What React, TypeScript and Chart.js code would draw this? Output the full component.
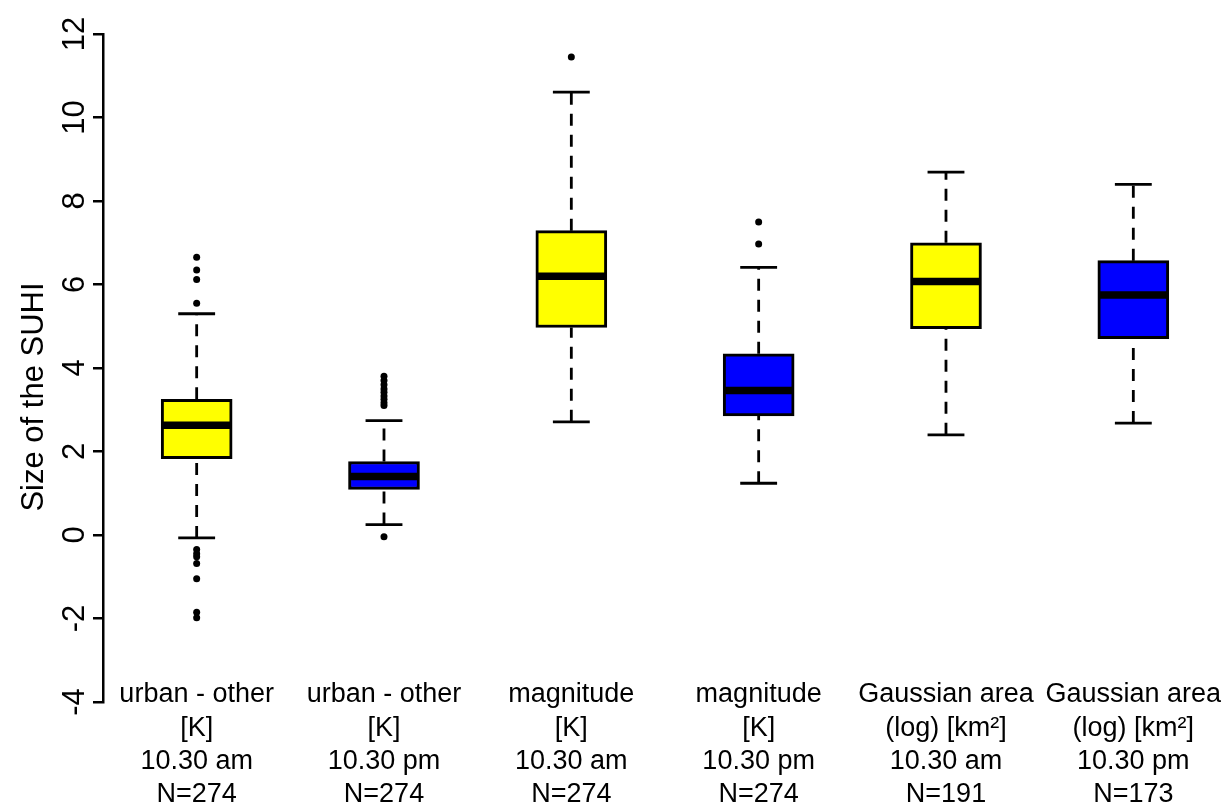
import React, { useEffect, useRef } from "react";
import { Chart, registerables } from "chart.js";

Chart.register(...registerables);

// ---------- data ----------
const CATEGORY_LABELS: string[][] = [
  ["urban - other", "[K]", "10.30 am", "N=274"],
  ["urban - other", "[K]", "10.30 pm", "N=274"],
  ["magnitude", "[K]", "10.30 am", "N=274"],
  ["magnitude", "[K]", "10.30 pm", "N=274"],
  ["Gaussian area", "(log) [km²]", "10.30 am", "N=191"],
  ["Gaussian area", "(log) [km²]", "10.30 pm", "N=173"],
];
const WHISKER_LOW = [-0.07, 0.25, 2.71, 1.24, 2.4, 2.68];
const Q1 = [1.83, 1.09, 4.97, 2.85, 4.94, 4.7];
const MEDIAN = [2.63, 1.4, 6.2, 3.46, 6.07, 5.75];
const Q3 = [3.25, 1.76, 7.29, 4.34, 7.0, 6.57];
const WHISKER_HIGH = [5.3, 2.74, 10.61, 6.41, 8.69, 8.4];
const OUTLIERS: number[][] = [
  [5.55, 6.12, 6.35, 6.65, -0.35, -0.45, -0.52, -0.68, -1.05, -1.85, -1.98],
  [3.1, 3.17, 3.25, 3.33, 3.42, 3.5, 3.6, 3.7, 3.8, -0.04],
  [11.45],
  [6.97, 7.5],
  [],
  [],
];
const BOX_COLORS = ["#FFFF00", "#0000FF", "#FFFF00", "#0000FF", "#FFFF00", "#0000FF"];
const Y_TICKS = [-4, -2, 0, 2, 4, 6, 8, 10, 12];
const Y_TITLE = "Size of the SUHI";

// ---------- style ----------
const FONT = "'Liberation Sans', Arial, Helvetica, sans-serif";
const W = 1227;
const H = 807;
const AREA_LEFT = 103;
const AREA_TOP = 34;
const AREA_BOTTOM = 702;
const PX_PER_CAT = 188;
const X_MIN = 0.5;
const X_MAX = X_MIN + (W - AREA_LEFT) / PX_PER_CAT;
const BOX_PX = 71;
const MED_HALF = 34 / PX_PER_CAT;
const CAP_HALF = 18.5 / PX_PER_CAT;

type P = { x: number; y: number | null };

function buildWhiskers(): P[] {
  const pts: P[] = [];
  Q1.forEach((_, i) => {
    const x = i + 1;
    pts.push({ x, y: Q3[i] }, { x, y: WHISKER_HIGH[i] }, { x, y: null });
    pts.push({ x, y: WHISKER_LOW[i] }, { x, y: Q1[i] }, { x, y: null });
  });
  return pts;
}

function buildCaps(): P[] {
  const pts: P[] = [];
  Q1.forEach((_, i) => {
    const x = i + 1;
    pts.push({ x: x - CAP_HALF, y: WHISKER_HIGH[i] }, { x: x + CAP_HALF, y: WHISKER_HIGH[i] }, { x: x + CAP_HALF, y: null });
    pts.push({ x: x - CAP_HALF, y: WHISKER_LOW[i] }, { x: x + CAP_HALF, y: WHISKER_LOW[i] }, { x: x + CAP_HALF, y: null });
  });
  return pts;
}

function buildMedians(): P[] {
  const pts: P[] = [];
  MEDIAN.forEach((m, i) => {
    const x = i + 1;
    pts.push({ x: x - MED_HALF, y: m }, { x: x + MED_HALF, y: m }, { x: x + MED_HALF, y: null });
  });
  return pts;
}

function buildOutliers(): P[] {
  const pts: P[] = [];
  OUTLIERS.forEach((arr, i) => arr.forEach((v) => pts.push({ x: i + 1, y: v })));
  return pts;
}

const labelPlugin = {
  id: "rLabels",
  afterDraw(chart: any) {
    const ctx = chart.ctx as CanvasRenderingContext2D;
    const ys = chart.scales.y;
    const xs = chart.scales.x;
    ctx.save();
    ctx.fillStyle = "#000";
    // y tick labels, rotated
    ctx.font = `31px ${FONT}`;
    ctx.textAlign = "center";
    ctx.textBaseline = "alphabetic";
    ys.ticks.forEach((t: any) => {
      const y = ys.getPixelForValue(t.value);
      ctx.save();
      ctx.translate(AREA_LEFT - 19, y);
      ctx.rotate(-Math.PI / 2);
      ctx.fillText(String(t.value), 0, 0);
      ctx.restore();
    });
    // y title
    ctx.font = `31px ${FONT}`;
    ctx.save();
    ctx.translate(43, 397);
    ctx.rotate(-Math.PI / 2);
    ctx.fillText(Y_TITLE, 0, 0);
    ctx.restore();
    // category labels
    ctx.font = `27px ${FONT}`;
    ctx.textBaseline = "middle";
    CATEGORY_LABELS.forEach((lines, i) => {
      const x = xs.getPixelForValue(i + 1);
      lines.forEach((ln, k) => {
        ctx.fillText(ln, x, 695 + k * 33.2);
      });
    });
    ctx.restore();
  },
};

export default function App() {
  const ref = useRef<HTMLCanvasElement | null>(null);
  useEffect(() => {
    if (!ref.current) return;
    const chart = new Chart(ref.current, {
      type: "bar",
      data: {
        datasets: [
          {
            type: "scatter",
            label: "outliers",
            data: buildOutliers(),
            pointRadius: 3.5,
            pointBackgroundColor: "#000",
            pointBorderWidth: 0,
            order: 0,
          } as any,
          {
            type: "line",
            label: "medians",
            data: buildMedians(),
            borderColor: "#000",
            borderWidth: 7.5,
            borderCapStyle: "butt",
            pointRadius: 0,
            spanGaps: false,
            order: 1,
          } as any,
          {
            type: "line",
            label: "whiskers",
            data: buildWhiskers(),
            borderColor: "#000",
            borderWidth: 2.8,
            borderDash: [12, 9],
            borderCapStyle: "butt",
            pointRadius: 0,
            spanGaps: false,
            order: 2,
          } as any,
          {
            type: "line",
            label: "caps",
            data: buildCaps(),
            borderColor: "#000",
            borderWidth: 2.8,
            borderCapStyle: "butt",
            pointRadius: 0,
            spanGaps: false,
            order: 2,
          } as any,
          {
            type: "bar",
            label: "boxes",
            data: Q1.map((q, i) => ({ x: i + 1, y: [q, Q3[i]] })),
            backgroundColor: BOX_COLORS,
            borderColor: "#000",
            borderWidth: 3,
            borderSkipped: false,
            barThickness: BOX_PX,
            grouped: false,
            order: 3,
          } as any,
        ],
      },
      options: {
        animation: false,
        responsive: false,
        devicePixelRatio: 1,
        layout: { padding: { left: 0, right: 0, top: AREA_TOP, bottom: H - AREA_BOTTOM } },
        plugins: { legend: { display: false }, tooltip: { enabled: false }, title: { display: false } },
        scales: {
          x: { type: "linear", min: X_MIN, max: X_MAX, display: false, offset: false },
          y: {
            type: "linear",
            min: Y_TICKS[0],
            max: Y_TICKS[Y_TICKS.length - 1],
            afterBuildTicks: (s: any) => {
              s.ticks = Y_TICKS.map((v) => ({ value: v }));
            },
            afterFit: (s: any) => {
              s.width = AREA_LEFT;
            },
            grid: { drawOnChartArea: false, drawTicks: true, tickLength: 10, color: "#000", lineWidth: 2.5 },
            border: { display: true, color: "#000", width: 2.5 },
            ticks: { display: false },
          },
        },
      } as any,
      plugins: [labelPlugin],
    });
    return () => chart.destroy();
  }, []);
  return (
    <div style={{ position: "fixed", left: 0, top: 0, width: W, height: H, background: "#fff" }}>
      <canvas ref={ref} width={W} height={H} style={{ display: "block", width: W, height: H }} />
    </div>
  );
}
